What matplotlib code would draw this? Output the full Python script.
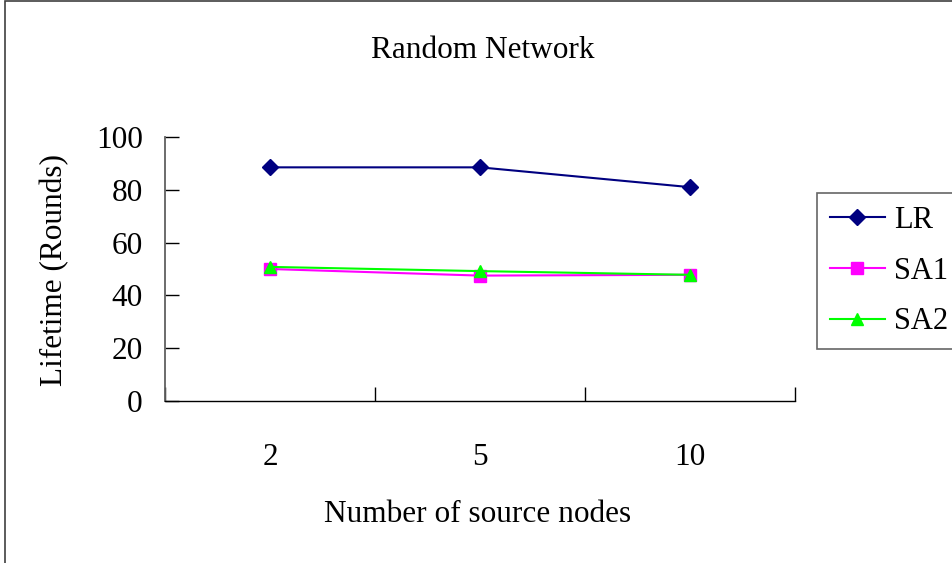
import matplotlib
matplotlib.use('Agg')
from matplotlib import pyplot as plt
from matplotlib.patches import Rectangle

# Data
categories = ['2', '5', '10']
lr_values = [88.5, 88.5, 81.0]
sa1_values = [50.0, 47.5, 47.8]
sa2_values = [50.8, 49.2, 47.8]

plt.rcParams['font.family'] = ['Liberation Serif', 'DejaVu Serif']

fig = plt.figure(figsize=(9.53, 5.63), dpi=100)
ax = fig.add_axes([0.1731, 0.2877, 0.8342 - 0.1731, 0.7567 - 0.2877])

# outer chart frame (right and bottom run off the image)
fig.patches.append(Rectangle((5.5 / 953, -0.05), 1.2, 1.05 - 1.0 / 563,
                             transform=fig.transFigure, fill=False,
                             edgecolor='#404040', linewidth=1.2))

x = list(range(len(categories)))
ax.plot(x, lr_values, color='#000080', marker='D', markersize=8, linewidth=1.5, label='LR')
ax.plot(x, sa1_values, color='#FF00FF', marker='s', markersize=8, linewidth=1.5, label='SA1')
ax.plot(x, sa2_values, color='#00FF00', marker='^', markersize=9, linewidth=1.5, label='SA2')

ax.set_xlim(-0.5, 2.5)
ax.set_ylim(0, 100)
ax.set_yticks([0, 20, 40, 60, 80, 100])
ax.set_xticks(x)
ax.set_xticklabels(categories)
ax.set_xticks([-0.5, 0.5, 1.5, 2.5], minor=True)
ax.tick_params(axis='x', which='major', length=0, pad=30, labelsize=22.5)
ax.tick_params(axis='x', which='minor', direction='in', length=10, width=1)
ax.tick_params(axis='y', direction='in', length=10, width=1, pad=16, labelsize=22.5)

for side in ['top', 'right']:
    ax.spines[side].set_visible(False)
ax.spines['left'].set_color('#606060')
ax.spines['left'].set_linewidth(1.3)
ax.spines['bottom'].set_linewidth(1.0)

fig.text(483 / 953, 1 - 50 / 563, 'Random Network', ha='center', va='center', fontsize=22.5)
fig.text(478 / 953, 1 - 514 / 563, 'Number of source nodes', ha='center', va='center', fontsize=22.5)
fig.text(55 / 953, 1 - 270 / 563, 'Lifetime (Rounds)', ha='center', va='center',
         rotation=90, fontsize=22.5)

leg = ax.legend(loc='upper left', bbox_to_anchor=(817 / 953, 1 - 193 / 563),
                bbox_transform=fig.transFigure, fontsize=22, frameon=True,
                fancybox=False, edgecolor='#404040', borderpad=0.42,
                labelspacing=0.71, handlelength=1.8, handletextpad=0.3,
                borderaxespad=0)
leg.get_frame().set_linewidth(1.2)

plt.savefig('out.png', dpi=100)
plt.close(fig)
